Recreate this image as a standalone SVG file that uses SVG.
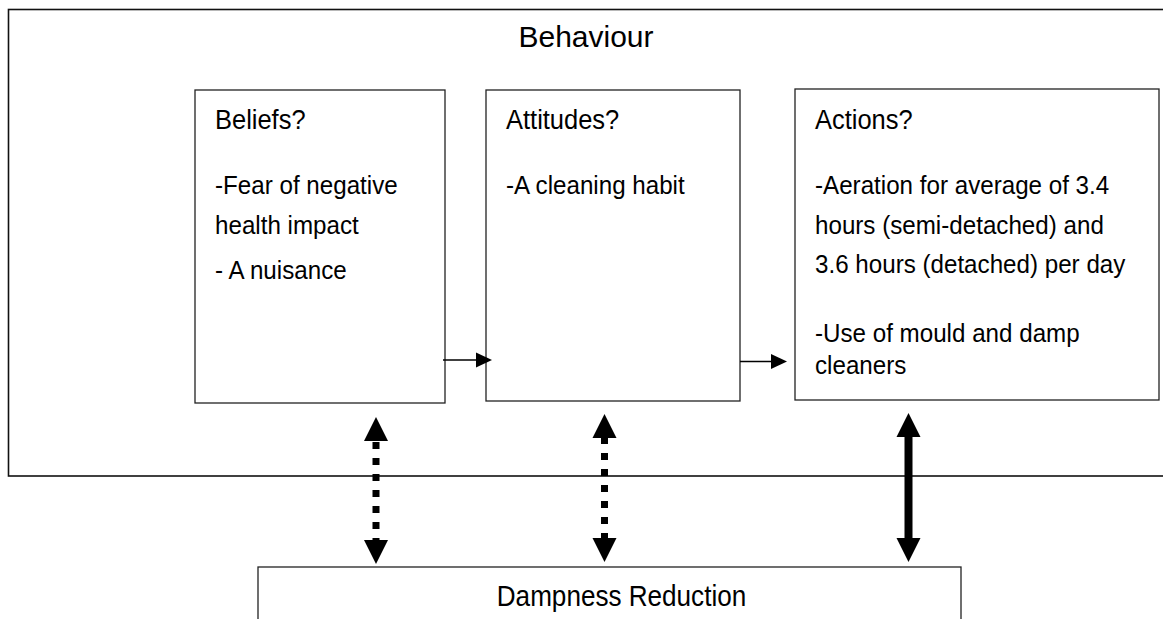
<svg xmlns="http://www.w3.org/2000/svg" xmlns:xlink="http://www.w3.org/1999/xlink" width="1163" height="619" viewBox="0 0 1163 619">
<style>
  .box { fill: #ffffff; stroke: #222222; stroke-width: 1.3; }
  .outer { fill: #ffffff; stroke: #111111; stroke-width: 1.6; }
  .t { font-family: "Liberation Sans", Arial, sans-serif; fill: #000000; }
  .head { font-size: 28px; }
  .body { font-size: 26px; }
  .title { font-size: 30px; }
  .thin { stroke: #000000; stroke-width: 1.6; fill: none; }
  .dots { stroke: #000000; stroke-width: 7; stroke-dasharray: 7 9; fill: none; }
  .solid { stroke: #000000; stroke-width: 8; fill: none; }
  .ah { fill: #000000; }
</style>
<defs>
  <path id="upHead" d="M0,0 L-12,24 L12,24 Z"/>
  <path id="rightHead" d="M0,0 L-16,-7.5 L-16,7.5 Z"/>
</defs>
<rect width="1163" height="619" fill="#ffffff"/>

<g id="behaviour">
  <rect class="outer" x="8.5" y="9.5" width="1200" height="466.5"/>
  <text class="t title" x="586" y="47" text-anchor="middle">Behaviour</text>
</g>

<g id="beliefs">
  <rect class="box" x="195" y="90" width="250" height="313"/>
  <g transform="translate(215 0) scale(0.91 1)">
    <text class="t head" x="0" y="129">Beliefs?</text>
  </g>
  <g transform="translate(215 0) scale(0.93 1)">
    <text class="t body" x="0" y="194">-Fear of negative</text>
    <text class="t body" x="0" y="234">health impact</text>
    <text class="t body" x="0" y="279">- A nuisance</text>
  </g>
</g>

<g id="attitudes">
  <rect class="box" x="486" y="90" width="254" height="311"/>
  <g transform="translate(506 0) scale(0.91 1)">
    <text class="t head" x="0" y="129">Attitudes?</text>
  </g>
  <g transform="translate(506 0) scale(0.93 1)">
    <text class="t body" x="0" y="194">-A cleaning habit</text>
  </g>
</g>

<g id="actions">
  <rect class="box" x="795" y="89" width="364" height="311"/>
  <g transform="translate(815 0) scale(0.91 1)">
    <text class="t head" x="0" y="129">Actions?</text>
  </g>
  <g transform="translate(815 0) scale(0.93 1)">
    <text class="t body" x="0" y="194">-Aeration for average of 3.4</text>
    <text class="t body" x="0" y="234">hours (semi-detached) and</text>
    <text class="t body" x="0" y="273">3.6 hours (detached) per day</text>
    <text class="t body" x="0" y="342">-Use of mould and damp</text>
    <text class="t body" x="0" y="374">cleaners</text>
  </g>
</g>

<g id="dampness">
  <rect class="box" x="258" y="567" width="703" height="100"/>
  <g transform="translate(621.5 0) scale(0.9 1)">
    <text class="t head" x="0" y="606" text-anchor="middle" style="font-size:29px">Dampness Reduction</text>
  </g>
</g>

<g id="connectors">
  <line class="thin" x1="443" y1="360" x2="478" y2="360"/>
  <use href="#rightHead" xlink:href="#rightHead" class="ah" transform="translate(492 360)"/>
  <line class="thin" x1="740" y1="361.5" x2="773" y2="361.5"/>
  <use href="#rightHead" xlink:href="#rightHead" class="ah" transform="translate(787 361.5)"/>

  <line class="dots" x1="376" y1="442" x2="376" y2="541"/>
  <use href="#upHead" xlink:href="#upHead" class="ah" transform="translate(376 417)"/>
  <use href="#upHead" xlink:href="#upHead" class="ah" transform="translate(376 564) rotate(180)"/>

  <line class="dots" x1="604.5" y1="437" x2="604.5" y2="538"/>
  <use href="#upHead" xlink:href="#upHead" class="ah" transform="translate(604.5 414)"/>
  <use href="#upHead" xlink:href="#upHead" class="ah" transform="translate(604.5 562) rotate(180)"/>

  <line class="solid" x1="908.5" y1="436" x2="908.5" y2="539"/>
  <use href="#upHead" xlink:href="#upHead" class="ah" transform="translate(908.5 413)"/>
  <use href="#upHead" xlink:href="#upHead" class="ah" transform="translate(908.5 562) rotate(180)"/>
</g>
</svg>
